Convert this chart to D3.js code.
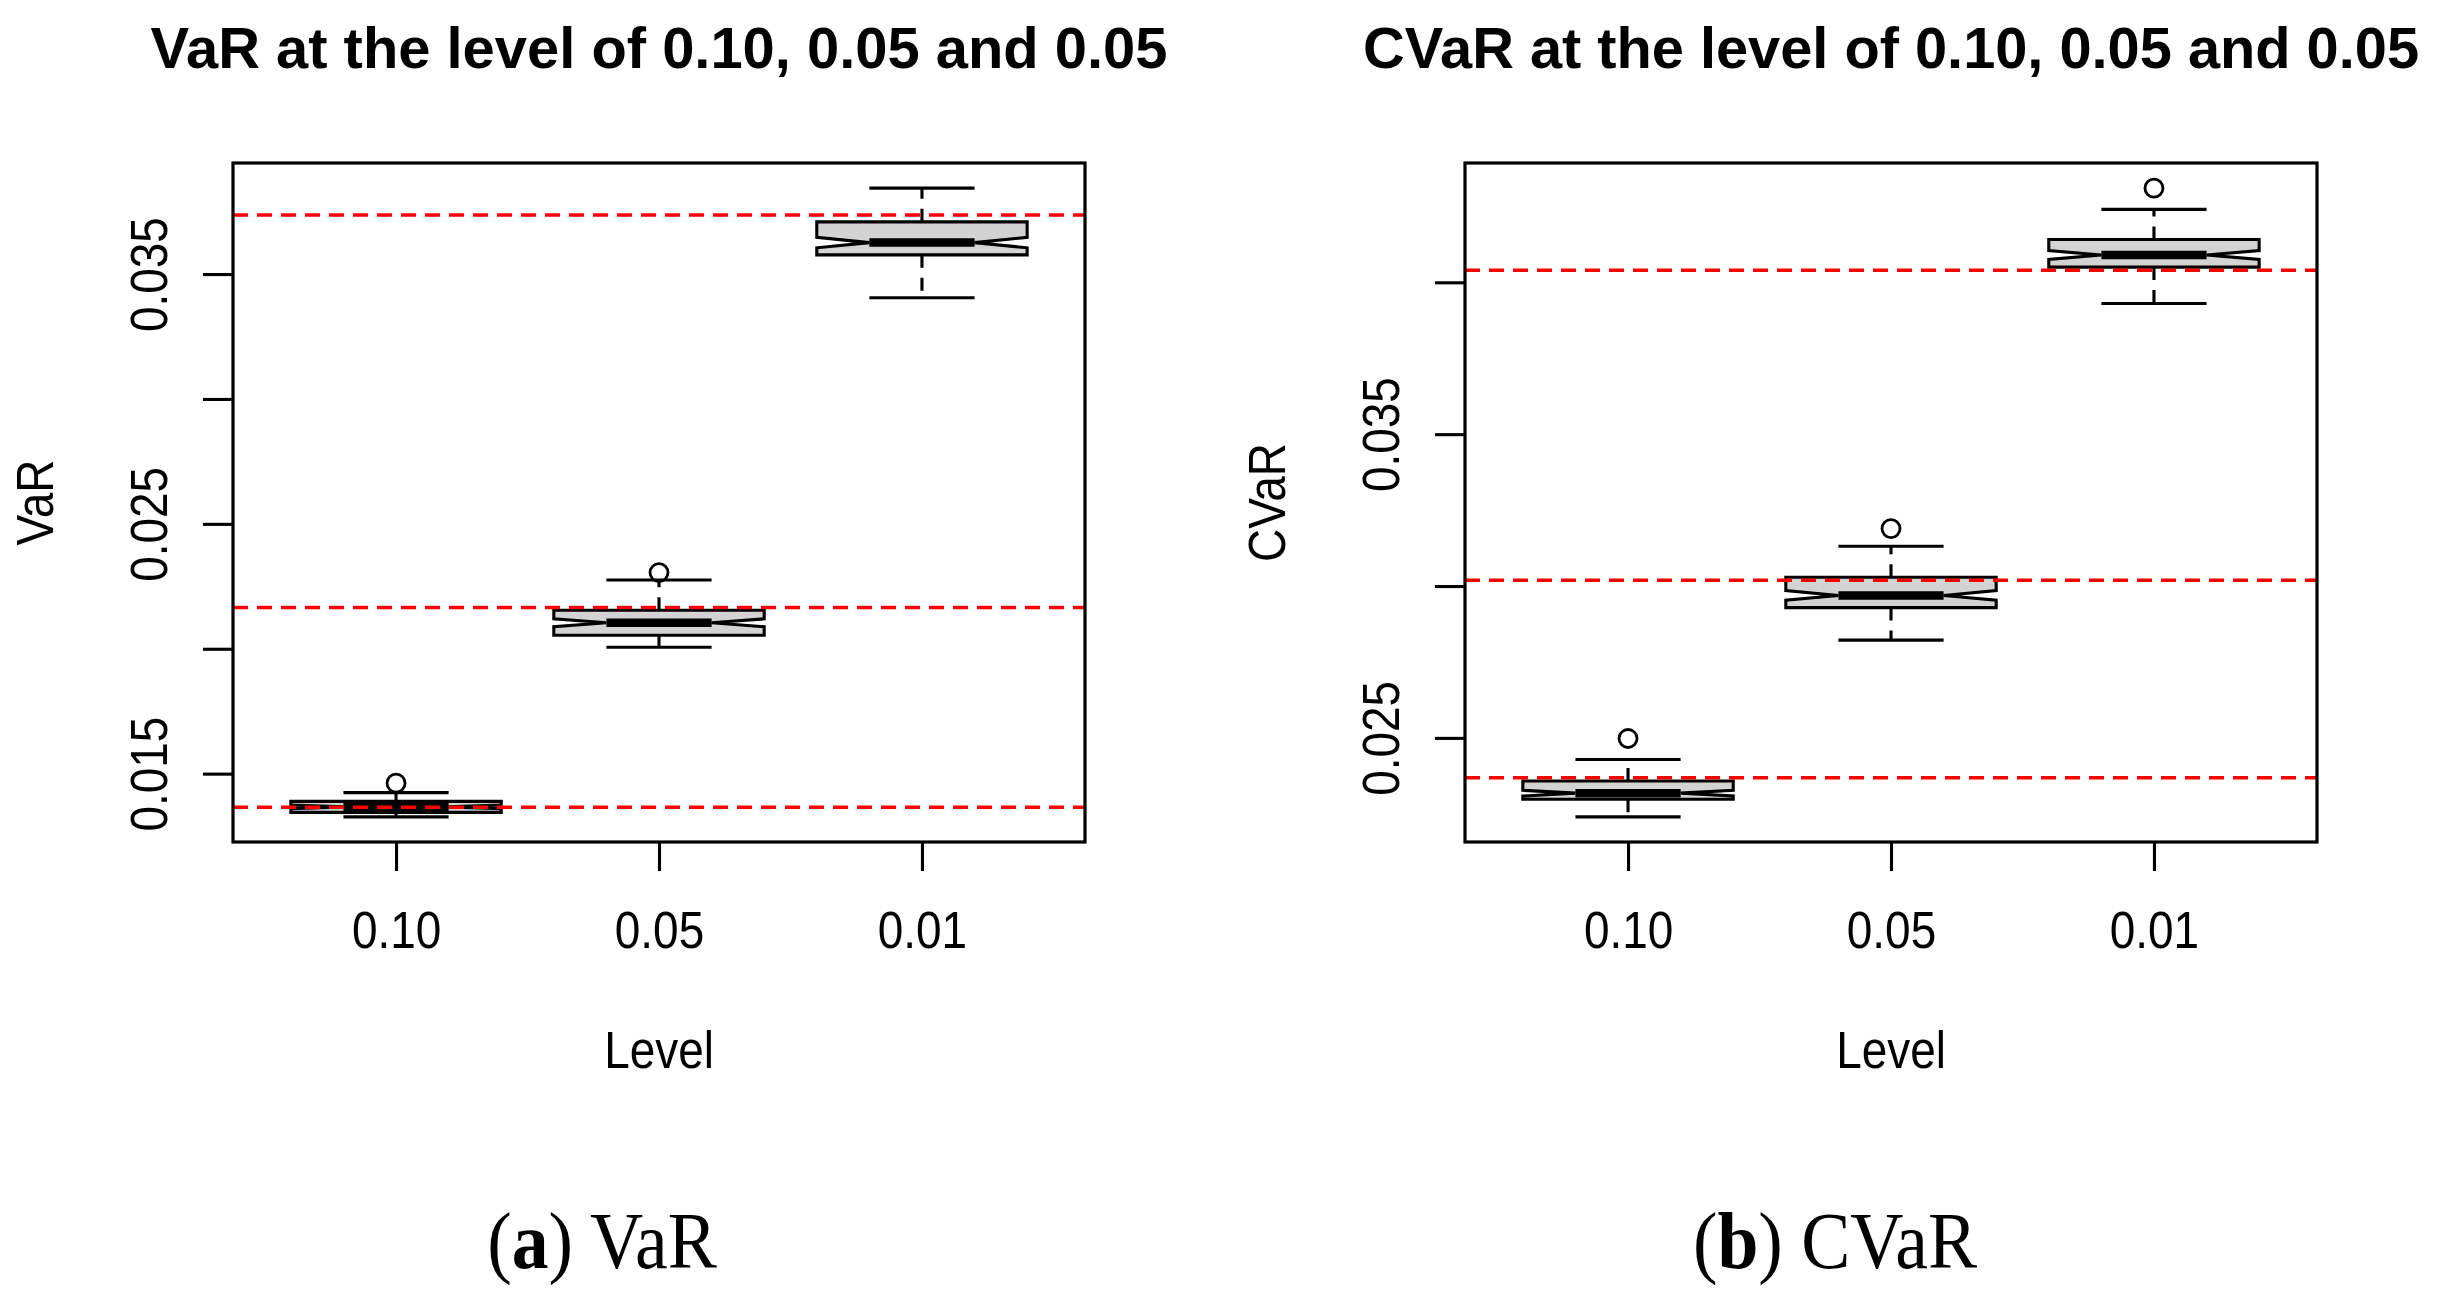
<!DOCTYPE html>
<html>
<head>
<meta charset="utf-8">
<script src="https://cdn.jsdelivr.net/npm/d3@7"></script>
<style>
  body { margin: 0; background: #fff; }
  svg { display: block; }
  text { font-family: 'Liberation Sans', Arial, sans-serif; fill: #000; }
</style>
</head>
<body>
<div id="plot-container"></div>
<script>
// The chart values
var levels = ['0.10', '0.05', '0.01'];
var sampleSize = 100;

var varLower   = [0.01327, 0.02006, 0.03405];
var varQ1      = [0.01345, 0.02054, 0.03577];
var varMedian  = [0.01367, 0.02104, 0.03626];
var varQ3      = [0.01389, 0.02154, 0.03709];
var varUpper   = [0.01424, 0.02275, 0.03844];
var varOutliers = [[0.01462], [0.02305], []];
var varTargets = [0.01365, 0.02165, 0.03736];
var varTicks = [0.015, 0.020, 0.025, 0.030, 0.035];
var varTickLabels = ['0.015', '', '0.025', '', '0.035'];

var cvarLower   = [0.02240, 0.02822, 0.03930];
var cvarQ1      = [0.02298, 0.02929, 0.04050];
var cvarMedian  = [0.02318, 0.02969, 0.04090];
var cvarQ3      = [0.02358, 0.03029, 0.04141];
var cvarUpper   = [0.02429, 0.03131, 0.04240];
var cvarOutliers = [[0.02498], [0.03189], [0.04310]];
var cvarTargets = [0.02369, 0.03019, 0.04040];
var cvarTicks = [0.025, 0.030, 0.035, 0.040];
var cvarTickLabels = ['0.025', '', '0.035', ''];

// The configuration parameters
var totalWidth = 2439, totalHeight = 1296;
var margins = {top: 163, bottom: 842, width: 852, tick: 30, squash: 0.9, stroke: 3.1};
var panels = [
  {left: 233, title: 'VaR at the level of 0.10, 0.05 and 0.05', titleWidth: 1017, ylab: 'VaR', letter: 'a', caption: ' VaR', captionX: 602,
   lower: varLower, q1: varQ1, median: varMedian, q3: varQ3, upper: varUpper, outliers: varOutliers, targets: varTargets, ticks: varTicks, tickLabels: varTickLabels},
  {left: 1465, title: 'CVaR at the level of 0.10, 0.05 and 0.05', titleWidth: 1056, ylab: 'CVaR', letter: 'b', caption: ' CVaR', captionX: 1835,
   lower: cvarLower, q1: cvarQ1, median: cvarMedian, q3: cvarQ3, upper: cvarUpper, outliers: cvarOutliers, targets: cvarTargets, ticks: cvarTicks, tickLabels: cvarTickLabels}
];
var line = d3.line().x(function(d) { return d[0]; }).y(function(d) { return d[1]; });

// R-style axis extension of 4%
function extend(lo, hi) { var pad = 0.04 * (hi - lo); return [lo - pad, hi + pad]; }

// narrow the glyphs a little like the original rendering
function squash(sel, factor) {
  sel.each(function() {
    var len = this.getComputedTextLength();
    d3.select(this).attr('textLength', len * factor).attr('lengthAdjust', 'spacingAndGlyphs');
  });
}

var svg = d3.select('#plot-container').append('svg').attr('width', totalWidth).attr('height', totalHeight);
svg.append('rect').attr('width', totalWidth).attr('height', totalHeight).attr('fill', '#fff');

panels.forEach(function(p) {
  var right = p.left + margins.width;
  var xScale = d3.scaleLinear().domain(extend(0.5, levels.length + 0.5)).range([p.left, right]);
  var allValues = p.lower.concat(p.upper, d3.merge(p.outliers));
  var yScale = d3.scaleLinear().domain(extend(d3.min(allValues), d3.max(allValues))).range([margins.bottom, margins.top]);
  var g = svg.append('g');

  // title
  g.append('text').attr('x', (p.left + right) / 2).attr('y', 68).attr('text-anchor', 'middle')
    .style('font-size', '58px').style('font-weight', 'bold')
    .attr('textLength', p.titleWidth).attr('lengthAdjust', 'spacingAndGlyphs').text(p.title);

  // boxes
  var boxes = g.selectAll('g.box').data(levels).enter().append('g').attr('class', 'box');
  boxes.each(function(d, i) {
    var b = d3.select(this), c = i + 1;
    var cc = 1.58 * (p.q3[i] - p.q1[i]) / Math.sqrt(sampleSize);
    var px = function(v) { return xScale(v); };
    // whiskers
    b.selectAll('line.whisker').data([[p.q1[i], p.lower[i]], [p.q3[i], p.upper[i]]]).enter().append('line').attr('class', 'whisker')
      .attr('x1', px(c)).attr('x2', px(c)).attr('y1', function(w) { return yScale(w[0]); }).attr('y2', function(w) { return yScale(w[1]); })
      .attr('stroke', '#000').attr('stroke-width', margins.stroke).attr('stroke-dasharray', '13,10');
    b.selectAll('line.staple').data([p.lower[i], p.upper[i]]).enter().append('line').attr('class', 'staple')
      .attr('x1', px(c - 0.2)).attr('x2', px(c + 0.2)).attr('y1', function(w) { return yScale(w); }).attr('y2', function(w) { return yScale(w); })
      .attr('stroke', '#000').attr('stroke-width', margins.stroke);
    // notched box
    var pts = [[c - 0.4, p.q1[i]], [c + 0.4, p.q1[i]], [c + 0.4, p.median[i] - cc], [c + 0.2, p.median[i]], [c + 0.4, p.median[i] + cc],
               [c + 0.4, p.q3[i]], [c - 0.4, p.q3[i]], [c - 0.4, p.median[i] + cc], [c - 0.2, p.median[i]], [c - 0.4, p.median[i] - cc]];
    b.append('path').attr('d', line(pts.map(function(q) { return [xScale(q[0]), yScale(q[1])]; })) + 'Z')
      .attr('fill', '#d3d3d3').attr('stroke', '#000').attr('stroke-width', margins.stroke).attr('stroke-linejoin', 'miter');
    b.append('line').attr('x1', px(c - 0.2)).attr('x2', px(c + 0.2)).attr('y1', yScale(p.median[i])).attr('y2', yScale(p.median[i]))
      .attr('stroke', '#000').attr('stroke-width', 8.5);
    // outliers
    b.selectAll('circle').data(p.outliers[i]).enter().append('circle')
      .attr('cx', px(c)).attr('cy', function(o) { return yScale(o); }).attr('r', 9)
      .attr('fill', 'none').attr('stroke', '#000').attr('stroke-width', 2.8);
  });

  // red reference lines
  g.selectAll('line.target').data(p.targets).enter().append('line').attr('class', 'target')
    .attr('x1', p.left).attr('x2', right).attr('y1', function(d) { return yScale(d); }).attr('y2', function(d) { return yScale(d); })
    .attr('stroke', '#ff0000').attr('stroke-width', 3.5).attr('stroke-dasharray', '15,9');

  // frame
  g.append('rect').attr('x', p.left).attr('y', margins.top).attr('width', margins.width).attr('height', margins.bottom - margins.top)
    .attr('fill', 'none').attr('stroke', '#000').attr('stroke-width', 3.2);

  // x axis
  var xAxis = g.append('g').attr('transform', 'translate(0,' + margins.bottom + ')')
    .call(d3.axisBottom(xScale).tickValues([1, 2, 3]).tickSize(29).tickPadding(0).tickFormat(function(d) { return levels[d - 1]; }));
  xAxis.select('.domain').remove();
  xAxis.selectAll('.tick line').attr('stroke-width', margins.stroke);
  xAxis.selectAll('.tick text').attr('y', 106).attr('dy', null).style('font-size', '51px').style('font-family', 'Liberation Sans');
  squash(xAxis.selectAll('.tick text'), margins.squash);

  // y axis
  var yAxis = g.append('g').attr('transform', 'translate(' + p.left + ',0)')
    .call(d3.axisLeft(yScale).tickValues(p.ticks).tickSize(margins.tick).tickFormat(function(d, i) { return p.tickLabels[i]; }));
  yAxis.select('.domain').remove();
  yAxis.selectAll('.tick line').attr('stroke-width', margins.stroke);
  yAxis.selectAll('.tick text').attr('x', null).attr('dy', null).attr('text-anchor', 'middle')
    .attr('transform', 'translate(-66,0) rotate(-90)').style('font-size', '51px').style('font-family', 'Liberation Sans');
  squash(yAxis.selectAll('.tick text'), margins.squash);

  // axis titles
  var xl = g.append('text').attr('x', (p.left + right) / 2).attr('y', 1068).attr('text-anchor', 'middle').style('font-size', '51px').text('Level');
  squash(xl, margins.squash);
  var yl = g.append('text').attr('transform', 'translate(' + (p.left - 180) + ',' + (margins.top + margins.bottom) / 2 + ') rotate(-90)')
    .attr('text-anchor', 'middle').style('font-size', '51px').text(p.ylab);
  squash(yl, margins.squash);

  // sub-figure caption
  var cap = g.append('text').attr('x', p.captionX).attr('y', 1268).attr('text-anchor', 'middle')
    .style('font-family', "'Liberation Serif', 'Times New Roman', serif").style('font-size', '80px');
  cap.append('tspan').text('(');
  cap.append('tspan').style('font-weight', 'bold').text(p.letter);
  cap.append('tspan').text(')' + p.caption);
  squash(cap, 0.92);
});
</script>
</body>
</html>
